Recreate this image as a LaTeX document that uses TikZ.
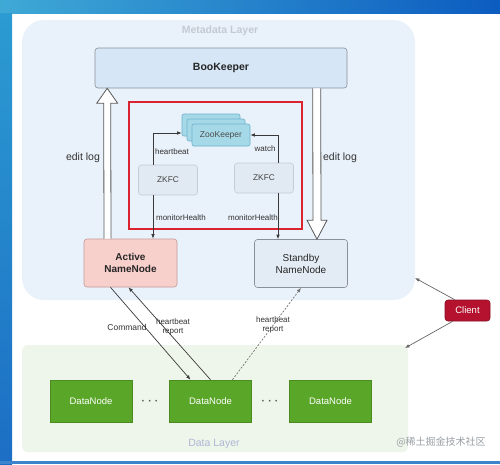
\documentclass[tikz,border=0pt]{standalone}
\usepackage{fontspec}
\setmainfont{Liberation Sans}
\newfontfamily\cjk{Noto Sans CJK SC}
\usetikzlibrary{arrows.meta,calc}
\definecolor{barL}{HTML}{3FA9D6}
\definecolor{barR}{HTML}{0C5CC0}
\definecolor{stripT}{HTML}{2C9BD2}
\definecolor{stripB}{HTML}{1C6EC4}
\definecolor{metafill}{HTML}{E9F1FA}
\definecolor{datafill}{HTML}{EEF5EA}
\definecolor{bkfill}{HTML}{D6E6F7}
\definecolor{boxline}{HTML}{8A9099}
\definecolor{hared}{HTML}{D9232E}
\definecolor{zkfill}{HTML}{A6D9E8}
\definecolor{zkline}{HTML}{6BB3CB}
\definecolor{zkfcfill}{HTML}{E1EAF3}
\definecolor{zkfcline}{HTML}{C3CDD8}
\definecolor{actfill}{HTML}{F7CFCB}
\definecolor{actline}{HTML}{C49A98}
\definecolor{sbfill}{HTML}{E3ECF5}
\definecolor{dnfill}{HTML}{5AA628}
\definecolor{dnline}{HTML}{4A8C20}
\definecolor{clfill}{HTML}{B5122F}
\definecolor{clline}{HTML}{8A0D22}
\definecolor{arrgray}{HTML}{3A3A3A}
\definecolor{titlegray}{HTML}{C3CAD2}
\definecolor{wmgray}{HTML}{9AA0A6}
\tikzset{
  box/.style={draw=boxline, line width=0.6pt, rounded corners=3pt, inner sep=1pt, align=center},
  bkbox/.style={box, fill=bkfill, minimum width=252pt, minimum height=40pt, font=\fontsize{10.5}{12}\selectfont\bfseries, text=black!85},
  redframe/.style={draw=hared, line width=1.6pt, minimum width=173pt, minimum height=127pt},
  zkbox/.style={draw=zkline, line width=0.6pt, fill=zkfill, rounded corners=2pt, minimum width=58pt, minimum height=22pt, font=\fontsize{8.5}{10}\selectfont, text=black!70},
  zkfcbox/.style={draw=zkfcline, line width=0.6pt, fill=zkfcfill, rounded corners=3pt, minimum width=59pt, minimum height=30pt, font=\fontsize{8.3}{10}\selectfont, text=black!75},
  nnbox/.style={box, minimum width=93pt, minimum height=48pt, font=\fontsize{10}{12}\selectfont, text=black!85},
  dnbox/.style={draw=dnline, line width=0.6pt, fill=dnfill, minimum width=82pt, minimum height=42pt, font=\fontsize{9.5}{11}\selectfont, text=white},
  clbox/.style={draw=clline, line width=0.6pt, fill=clfill, rounded corners=3pt, minimum width=45pt, minimum height=21pt, font=\fontsize{9.5}{11}\selectfont, text=white},
  lbl/.style={font=\fontsize{8}{9}\selectfont, text=black!80, align=center, inner sep=1pt},
  biglbl/.style={font=\fontsize{10.5}{12}\selectfont, text=black!80, inner sep=1pt},
  arr/.style={-{Latex[length=4.5pt,width=3.6pt]}, draw=arrgray, line width=0.7pt},
  hollow/.style={draw=black!65, fill=white, line width=0.8pt, line join=miter},
}
\begin{document}
\begin{tikzpicture}[x=1pt,y=-1pt]
\useasboundingbox (0,0) rectangle (500,464);
% screen frame
\fill[white] (0,0) rectangle (500,464);
\shade[left color=barL, right color=barR] (0,0) rectangle (500,13);
\shade[top color=stripT, bottom color=stripB] (0,13) rectangle (12,464);
\fill[stripB!85!white] (0,461) rectangle (500,464);
% panels
\fill[metafill, rounded corners=22pt] (22,20) rectangle (415,300);
\fill[datafill, rounded corners=6pt] (22,345) rectangle (408,452);
\node[font=\fontsize{10.5}{12}\selectfont\bfseries, text=titlegray] (mtitle) at (220,31) {Metadata Layer};
\node[font=\fontsize{10.5}{12}\selectfont, text=titlegray!90!blue] (dtitle) at (214,444) {Data Layer};
% nodes
\node[bkbox] (book) at (221,68) {BooKeeper};
\node[redframe] (ha) at (215.5,165.5) {};
\node[zkbox] (zkb2) at (211,125) {};
\node[zkbox] (zkb1) at (216,130) {};
\node[zkbox] (zk) at (221,135) {ZooKeeper};
\node[zkfcbox] (zkfc1) at (168,180) {ZKFC};
\node[zkfcbox] (zkfc2) at (264,178) {ZKFC};
\node[nnbox, fill=actfill, draw=actline, font=\fontsize{10}{12}\selectfont\bfseries] (active) at (130.5,263) {Active\\NameNode};
\node[nnbox, fill=sbfill] (standby) at (301,263.5) {Standby\\NameNode};
\node[dnbox] (dn1) at (91,401) {DataNode};
\node[dnbox] (dn2) at (210.5,401) {DataNode};
\node[dnbox] (dn3) at (330.5,401) {DataNode};
\node[font=\fontsize{10}{12}\selectfont\bfseries, text=black!70] (dots1) at (150,402) {·\,\,·\,\,·};
\node[font=\fontsize{10}{12}\selectfont\bfseries, text=black!70] (dots2) at (270,402) {·\,\,·\,\,·};
\node[clbox] (client) at (467.5,310.5) {Client};
% hollow edit-log arrows
\coordinate (l0) at ($(active.north)+(-23,0)$);
\coordinate (l1) at ($(book.south west)+(12.5,0)$);
\draw[hollow] ($(l0)+(-3.5,0)$) -- ($(l1)+(-3.5,15)$) -- ($(l1)+(-10.5,15)$) -- (l1) -- ($(l1)+(10.5,15)$) -- ($(l1)+(3.5,15)$) -- ($(l0)+(3.5,0)$);
\coordinate (r0) at ($(book.south west)+(222,0)$);
\coordinate (r1) at ($(standby.north)+(16,0)$);
\draw[hollow] ($(r0)+(-4,0)$) -- ($(r1)+(-4,-19)$) -- ($(r1)+(-10,-19)$) -- (r1) -- ($(r1)+(10,-19)$) -- ($(r1)+(4,-19)$) -- ($(r0)+(4,0)$);
\node[biglbl] (el1) at (83,158) {edit log};
\node[biglbl] (el2) at (340,158) {edit log};
% ZKFC connectors
\coordinate (h1) at ($(zkfc1.north)+(-15,0)$);
\coordinate (h2) at ($(zkb2.west |- zk.center)+(0,-2)$);
\draw[arr] (h1) |- (h2);
\coordinate (w1) at ($(zkfc2.north)+(14,0)$);
\draw[arr] (w1) |- (zk.east);
\node[lbl] (hbl) at (172,152) {heartbeat};
\node[lbl] (wl) at (265,149) {watch};
\coordinate (m1) at ($(zkfc1.south)+(-15,0)$);
\draw[arr] (m1) -- (m1 |- active.north);
\coordinate (m2) at ($(zkfc2.south)+(14,0)$);
\draw[arr] (m2) -- (m2 |- standby.north);
\node[lbl] (mh1) at (181,218) {monitorHealth};
\node[lbl] (mh2) at (253,218) {monitorHealth};
% NameNode - DataNode connectors
\draw[arr] ($(active.south)+(-20,0)$) -- ($(dn2.north)+(-20,0)$);
\draw[arr] (dn2.north) -- ($(active.south)+(-2,0)$);
\draw[arr, dashed, dash pattern=on 2pt off 1.5pt, draw=black!55] ($(dn2.north)+(22,0)$) -- (standby.south);
\node[lbl, font=\fontsize{8.5}{10}\selectfont] (cmd) at (127,327) {Command};
\node[lbl] (hr1) at (173,327) {heartbeat\\report};
\node[lbl] (hr2) at (273,325) {heartbeat\\report};
% client
\coordinate (cm) at (415,278);
\coordinate (cd) at (405,348);
\draw[arr, draw=black!60] ($(client.north west)+(10,0)$) -- (cm);
\draw[arr, draw=black!60] ($(client.south west)+(8,0)$) -- (cd);
% watermark
\node[font=\cjk\fontsize{10}{12}\selectfont, text=wmgray] (wm) at (441,442) {@稀土掘金技术社区};
\end{tikzpicture}
\end{document}
